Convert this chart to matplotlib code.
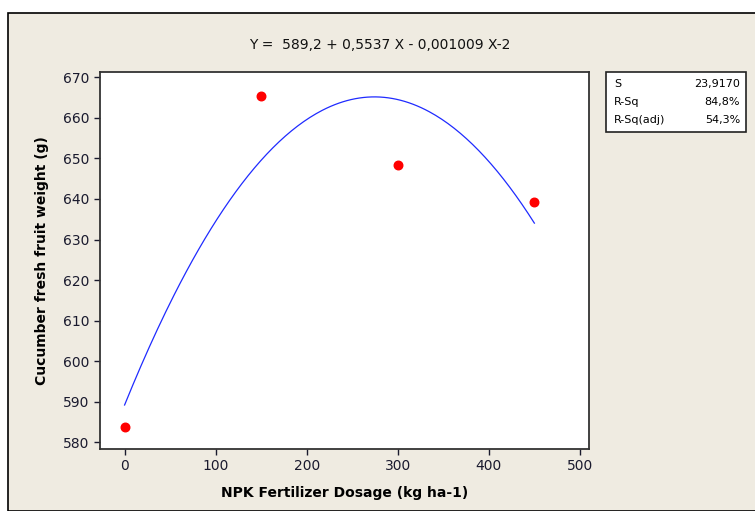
import numpy as np
import matplotlib.pyplot as plt
from matplotlib.patches import Rectangle

# NPK dose vs cucumber fruit weight
dose = [0, 150, 300, 450]
weight = [583.8, 665.4, 648.4, 639.3]

# fitted quadratic coefficients (from the regression equation)
coef = [-0.001009, 0.5537, 589.2]

stat_names = ["S", "R-Sq", "R-Sq(adj)"]
stat_values = ["23,9170", "84,8%", "54,3%"]

W, H = 755, 511
fig = plt.figure(figsize=(W / 100, H / 100), dpi=100)
fig.patch.set_facecolor("white")

# beige panel with a black border, kept behind the axes
fig.patches.append(Rectangle((8 / W, 0), 1, 1 - 13 / H, transform=fig.transFigure,
                             facecolor="#EFEBE1", edgecolor="black", linewidth=1.2, zorder=-10))

ax = fig.add_axes([100 / W, 1 - 449 / H, 489 / W, 377 / H])
ax.set_facecolor("white")

xs = np.linspace(min(dose), max(dose), 200)
ax.plot(xs, np.polyval(coef, xs), color="#1f2bff", linewidth=0.9)
ax.scatter(dose, weight, color="#ff0000", s=38, zorder=3)

ax.set_xlim(-27, 510)
ax.set_ylim(578.35, 671.3)
ax.set_xticks([0, 100, 200, 300, 400, 500])
ax.set_yticks(range(580, 671, 10))
ax.tick_params(direction="out", length=4, width=1, labelsize=10, colors="#1a1a2e")
for s in ax.spines.values():
    s.set_linewidth(1.3)
    s.set_color("#333333")

ax.set_xlabel("NPK Fertilizer Dosage (kg ha-1)", fontsize=10, fontweight="bold", labelpad=9)
ax.set_ylabel("Cucumber fresh fruit weight (g)", fontsize=10, fontweight="bold", labelpad=10)

fig.text(380 / W, 1 - 45 / H, "Y =  589,2 + 0,5537 X - 0,001009 X-2",
         ha="center", va="center", fontsize=10, color="#111111")

# statistics box
fig.patches.append(Rectangle((606 / W, 1 - 132 / H), 140 / W, 60 / H, transform=fig.transFigure,
                             facecolor="white", edgecolor="#222222", linewidth=1.2))
for i, (n, v) in enumerate(zip(stat_names, stat_values)):
    yy = 1 - (84 + i * 18) / H
    fig.text(614 / W, yy, n, ha="left", va="center", fontsize=8)
    fig.text(740 / W, yy, v, ha="right", va="center", fontsize=8)

fig.savefig("out.png", dpi=100, facecolor=fig.get_facecolor())
